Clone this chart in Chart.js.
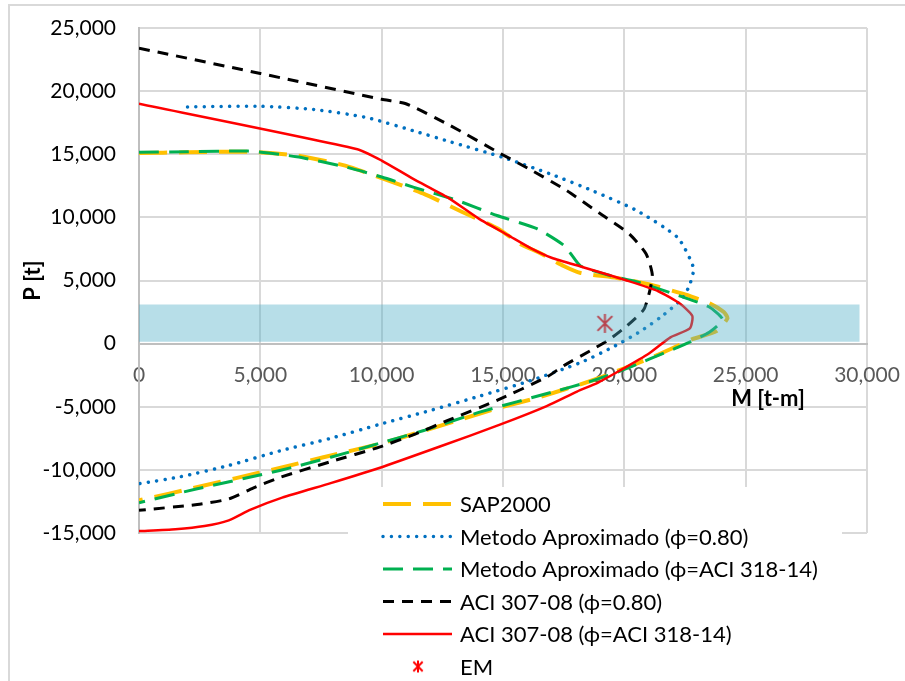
<!DOCTYPE html>
<html>
<head>
<meta charset="utf-8">
<script src="https://cdn.jsdelivr.net/npm/chart.js@4.4.1/dist/chart.umd.min.js"></script>
<style>
  html, body { margin: 0; padding: 0; background: #fff; overflow: hidden; }
  #wrap { position: relative; width: 905px; height: 681px; }
  #frame { position: absolute; left: 8px; top: 4px; width: 1000px; height: 1000px;
           border-top: 2px solid #d9d9d9; border-left: 2px solid #d9d9d9; }
  canvas { position: absolute; left: 0; top: 0; }
</style>
</head>
<body>
<div id="wrap">
  <div id="frame"></div>
  <canvas id="myChart" width="905" height="681"></canvas>
</div>
<script>
// M [t-m] / P [t] pairs
const sapM = [0, 2000, 4500, 6500, 8500, 10000, 11700, 13300, 14800, 15700, 16500, 17500, 18200, 19700, 21000, 22500, 23500, 24100, 24250, 23800, 22800, 22000, 21000, 20000, 18700, 16400, 14800, 12000, 10000, 7600, 5800, 4000, 1200, 0];
const sapP = [15100, 15150, 15200, 14900, 14100, 13100, 11900, 10450, 9100, 7900, 7200, 6150, 5600, 5200, 4700, 3900, 3200, 2500, 2000, 1000, 350, -350, -1200, -1950, -2900, -4300, -5100, -6750, -7900, -9000, -9850, -10650, -11900, -12400];

const blueM = [2000, 5000, 7200, 9400, 11500, 12800, 15000, 17000, 18700, 20500, 22200, 22850, 22700, 22400, 21500, 20600, 19500, 18200, 16100, 14050, 12000, 9900, 7900, 5800, 3700, 1700, 0];
const blueP = [18750, 18800, 18550, 17900, 16750, 16000, 14750, 13400, 12100, 10550, 8400, 6000, 4700, 3600, 2100, 900, -300, -1500, -2950, -4150, -5300, -6400, -7500, -8500, -9650, -10550, -11100];

const greenM = [0, 2000, 4500, 6500, 8500, 10000, 11300, 13100, 14750, 16400, 17500, 17800, 18200, 19400, 20500, 22400, 23500, 24050, 23500, 22200, 21000, 19800, 18500, 17200, 14000, 11700, 9900, 7900, 5800, 2400, 0];
const greenP = [15150, 15200, 15250, 14800, 14000, 13200, 12400, 11350, 10150, 9100, 7800, 7100, 6150, 5400, 4900, 3700, 2900, 1900, 900, -300, -1250, -2200, -3050, -3750, -5450, -6900, -7900, -9000, -10050, -11500, -12600];

const blackM = [0, 5000, 10000, 11000, 12800, 14900, 16200, 17600, 19000, 20200, 20900, 21150, 21050, 20800, 20100, 19400, 18700, 17500, 16800, 14750, 12700, 11400, 9900, 7900, 5800, 4700, 3700, 2400, 0];
const blackP = [23400, 21400, 19350, 19000, 17300, 15050, 13700, 12150, 10300, 8700, 7100, 5500, 4200, 2700, 1400, 350, -450, -1750, -2650, -4500, -6100, -7150, -8200, -9350, -10600, -11450, -12300, -12750, -13200];

const redM = [0, 9000, 10000, 11300, 12700, 14000, 15200, 16200, 17000, 18300, 20100, 21400, 22300, 22800, 22700, 21900, 21000, 19800, 18900, 18050, 16800, 14900, 12400, 9900, 7900, 5900, 4600, 3700, 2700, 1500, 0];
const redP = [19000, 15400, 14500, 13050, 11600, 9900, 8600, 7500, 6800, 6050, 5000, 4150, 3150, 2200, 1200, 500, -800, -2150, -3100, -3800, -4950, -6400, -8150, -9850, -11050, -12200, -13150, -14000, -14450, -14700, -14850];

const emM = [19200];
const emP = [1600];

// shaded band
const bandM = [0, 29700];
const bandTop = [3100, 3100];
const bandBottom = 150;

const xTicks = [0, 5000, 10000, 15000, 20000, 25000, 30000];
const yTicks = [-15000, -10000, -5000, 0, 5000, 10000, 15000, 20000, 25000];

const seriesNames = [
    "SAP2000",
    "Metodo Aproximado (\u03d5=0.80)",
    "Metodo Aproximado (\u03d5=ACI 318-14)",
    "ACI 307-08 (\u03d5=0.80)",
    "ACI 307-08 (\u03d5=ACI 318-14)",
    "EM",
];

const FONT = "Lato, 'Noto Sans', 'DejaVu Sans', sans-serif";
Chart.defaults.font.family = FONT;

function pairs(xs, ys) {
    return xs.map((x, i) => ({ x: x, y: ys[i] }));
}

function makeStar(size, color, lw) {
    const c = document.createElement("canvas");
    c.width = size;
    c.height = size;
    const g = c.getContext("2d");
    const h = size / 2;
    const r = h - 1;
    g.strokeStyle = color;
    g.lineWidth = lw;
    g.beginPath();
    g.moveTo(h, h - r); g.lineTo(h, h + r);
    g.moveTo(h - r * 0.78, h - r * 0.78); g.lineTo(h + r * 0.78, h + r * 0.78);
    g.moveTo(h + r * 0.78, h - r * 0.78); g.lineTo(h - r * 0.78, h + r * 0.78);
    g.stroke();
    return c;
}

const starBig = makeStar(21, "#ff0000", 2);
const starSmall = makeStar(14, "#ff0000", 2);

function lineSet(label, xs, ys, color, width, dash, cap, order) {
    return {
        label: label,
        data: pairs(xs, ys),
        showLine: true,
        borderColor: color,
        backgroundColor: color,
        borderWidth: width,
        borderDash: dash,
        borderCapStyle: cap,
        borderJoinStyle: "round",
        pointRadius: 0,
        tension: 0.2,
        fill: false,
        order: order,
    };
}

const datasets = [
    {
        label: "band",
        data: pairs(bandM, bandTop),
        showLine: true,
        borderWidth: 0,
        pointRadius: 0,
        backgroundColor: "rgba(75, 172, 198, 0.4)",
        fill: { value: bandBottom },
        order: 0,
    },
    {
        label: seriesNames[5],
        data: pairs(emM, emP),
        showLine: false,
        pointStyle: starBig,
        pointRadius: 10,
        order: 1,
    },
    lineSet(seriesNames[4], redM, redP, "#ff0000", 2.5, [], "butt", 2),
    lineSet(seriesNames[3], blackM, blackP, "#000000", 3, [11, 8], "butt", 3),
    lineSet(seriesNames[2], greenM, greenP, "#00b050", 3, [20, 10], "butt", 4),
    lineSet(seriesNames[1], blueM, blueP, "#0070c0", 3.5, [0.01, 8.4], "round", 5),
    lineSet(seriesNames[0], sapM, sapP, "#ffc000", 4, [28, 12], "butt", 6),
];
// legend order: SAP2000 first, EM last
const legendOrder = [6, 5, 4, 3, 2, 1];

// legend drawn over the lower part of the plot, like the original
const overlayLegend = {
    id: "overlayLegend",
    afterDraw(chart) {
        const ctx = chart.ctx;
        const area = chart.chartArea;
        ctx.save();
        ctx.fillStyle = "#fff";
        ctx.fillRect(area.left + 209, 487, 494, 200);

        // x axis title
        ctx.fillStyle = "#000";
        ctx.font = "bold 22px " + FONT;
        ctx.textAlign = "center";
        ctx.textBaseline = "middle";
        ctx.fillText("M [t-m]", 768, 399);

        ctx.font = "22px " + FONT;
        ctx.textAlign = "left";
        legendOrder.map((k) => chart.data.datasets[k]).forEach((d, i) => {
            const y = 504 + i * 32.5;
            if (d.showLine) {
                ctx.save();
                ctx.strokeStyle = d.borderColor;
                ctx.lineWidth = d.borderWidth;
                ctx.setLineDash(d.borderDash || []);
                ctx.lineCap = d.borderCapStyle || "butt";
                ctx.beginPath();
                ctx.moveTo(383, y);
                ctx.lineTo(452, y);
                ctx.stroke();
                ctx.restore();
            } else {
                ctx.drawImage(starSmall, 418 - 7, y - 7);
            }
            ctx.fillStyle = "#000";
            ctx.fillText(d.label, 460, y + 1);
        });
        ctx.restore();
    },
};

function noPad(scale) {
    scale.paddingTop = 0;
    scale.paddingBottom = 0;
    scale.paddingLeft = 0;
    scale.paddingRight = 0;
}

new Chart(document.getElementById("myChart"), {
    type: "scatter",
    data: { datasets: datasets },
    options: {
        responsive: false,
        animation: false,
        events: [],
        layout: { padding: { top: 28, right: 38, left: 0, bottom: 148 } },
        plugins: {
            legend: { display: false },
            tooltip: { enabled: false },
        },
        scales: {
            x: {
                type: "linear",
                position: { y: 0 },
                min: 0,
                max: 30000,
                afterBuildTicks: (scale) => {
                    scale.ticks = xTicks.map((v) => ({ value: v }));
                },
                afterFit: noPad,
                grid: { color: "#d9d9d9", lineWidth: 2, drawTicks: false },
                border: { color: "#bfbfbf", width: 2 },
                ticks: {
                    color: "#595959",
                    padding: 19,
                    maxRotation: 0,
                    font: { size: 21 },
                    callback: (v) => v.toLocaleString("en-US"),
                },
            },
            y: {
                type: "linear",
                min: -15000,
                max: 25000,
                afterBuildTicks: (scale) => {
                    scale.ticks = yTicks.map((v) => ({ value: v }));
                },
                afterFit: (scale) => {
                    scale.width = 139;
                    noPad(scale);
                },
                grid: { color: "#d9d9d9", lineWidth: 2, drawTicks: false },
                border: { color: "#bfbfbf", width: 2 },
                title: {
                    display: true,
                    text: "P [t]",
                    color: "#000",
                    font: { size: 22, weight: "bold" },
                    padding: { top: 20, bottom: 0 },
                },
                ticks: {
                    color: "#000",
                    padding: 23,
                    font: { size: 21 },
                    callback: (v) => v.toLocaleString("en-US"),
                },
            },
        },
    },
    plugins: [overlayLegend],
});
</script>
</body>
</html>
